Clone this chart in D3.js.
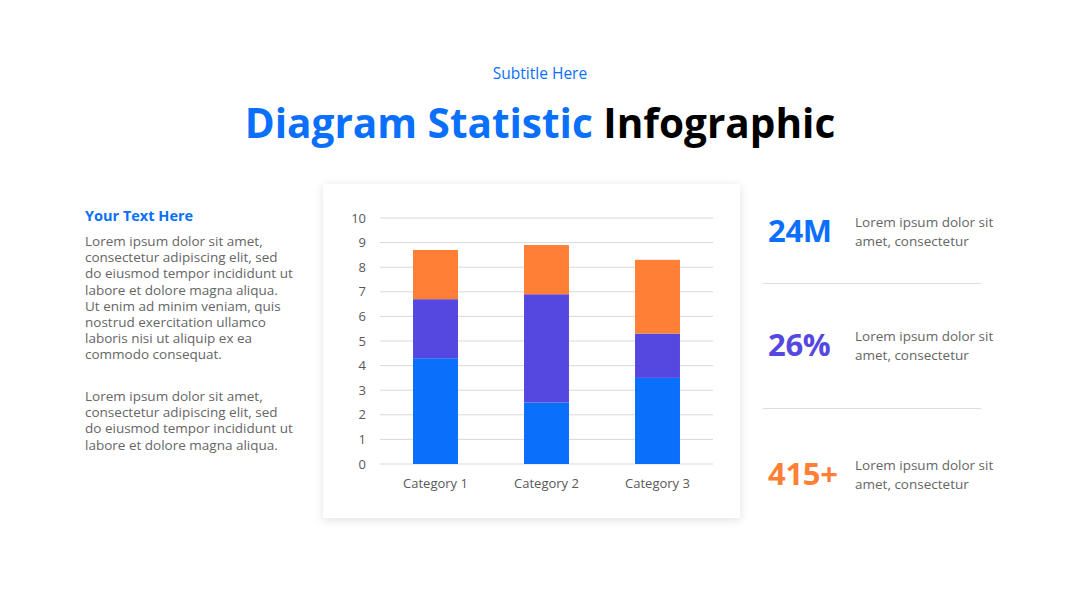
<!DOCTYPE html>
<html><head><meta charset="utf-8">
<script src="https://cdn.jsdelivr.net/npm/d3@7"></script>
<style>
html,body{margin:0;padding:0;background:#fff;}
svg{display:block;font-family:"Open Sans",sans-serif;}
</style></head><body>
<svg id="c" width="1080" height="608"></svg>
<script>
const categories = ["Category 1","Category 2","Category 3"];
const seriesNames = ["Series 1","Series 2","Series 3"];
const series1 = [4.3, 2.5, 3.5];
const series2 = [2.4, 4.4, 1.8];
const series3 = [2.0, 2.0, 3.0];
const yTicks = [0,1,2,3,4,5,6,7,8,9,10];
const colors = ["#0a6ffb","#5548e1","#fe7f35"];
const stats = ["24M","26%","415+"];
const statColors = ["#0a6ffb","#5548e1","#fe7f35"];

const svg = d3.select("#c");
const blue = "#0a6ffb", gray = "#666666";

// header
svg.append("text").attr("x",540).attr("y",79).attr("text-anchor","middle")
  .attr("font-size",15.5).attr("fill",blue).text("Subtitle Here");
const title = svg.append("text").attr("x",540).attr("y",138).attr("text-anchor","middle")
  .attr("font-size",40.5).attr("font-weight",700);
title.append("tspan").attr("fill",blue).text("Diagram Statistic ");
title.append("tspan").attr("fill","#000").text("Infographic");

// left text
svg.append("text").attr("x",85).attr("y",221).attr("font-size",14.5).attr("font-weight",700)
  .attr("fill",blue).text("Your Text Here");
const para1 = ["Lorem ipsum dolor sit amet,","consectetur adipiscing elit, sed","do eiusmod tempor incididunt ut","labore et dolore magna aliqua.","Ut enim ad minim veniam, quis","nostrud exercitation ullamco","laboris nisi ut aliquip ex ea","commodo consequat."];
const para2 = ["Lorem ipsum dolor sit amet,","consectetur adipiscing elit, sed","do eiusmod tempor incididunt ut","labore et dolore magna aliqua."];
function para(lines, y0){
  const t = svg.append("text").attr("x",85).attr("y",y0).attr("font-size",13.5).attr("fill",gray);
  lines.forEach((l,i)=>t.append("tspan").attr("x",85).attr("y",y0+i*16.2).text(l));
}
para(para1,246);
para(para2,401);

// chart panel with shadow
const defs = svg.append("defs");
const f = defs.append("filter").attr("id","sh").attr("x","-10%").attr("y","-10%").attr("width","120%").attr("height","120%");
f.append("feDropShadow").attr("dx",0).attr("dy",2).attr("stdDeviation",5).attr("flood-color","#000").attr("flood-opacity",0.12);
svg.append("rect").attr("x",323).attr("y",184).attr("width",417).attr("height",334).attr("fill","#fff").attr("filter","url(#sh)");

const x = d3.scaleBand().domain(categories).range([380,713]).paddingInner(0.595).paddingOuter(0.2975);
const y = d3.scaleLinear().domain([0,10]).range([464,218]);

// grid
const g = svg.append("g");
g.selectAll("line.grid").data(yTicks).join("line")
  .attr("x1",380).attr("x2",713).attr("y1",d=>y(d)).attr("y2",d=>y(d))
  .attr("stroke","#d9d9d9").attr("stroke-width",1);

const yAxis = svg.append("g").attr("transform","translate(366,0)")
  .call(d3.axisLeft(y).tickValues(yTicks).tickSize(0).tickPadding(0));
yAxis.select(".domain").remove();
yAxis.selectAll("text").attr("font-size",13).attr("fill","#595959").attr("font-family","Open Sans");

const data = categories.map((c,i)=>({cat:c, s0:series1[i], s1:series2[i], s2:series3[i]}));
const stack = d3.stack().keys(["s0","s1","s2"])(data);
svg.append("g").selectAll("g").data(stack).join("g").attr("fill",(d,i)=>colors[i])
  .selectAll("rect").data(d=>d).join("rect")
  .attr("x",d=>x(d.data.cat)).attr("width",x.bandwidth())
  .attr("y",d=>y(d[1])).attr("height",d=>y(d[0])-y(d[1]));

const xAxis = svg.append("g").attr("transform","translate(0,464)")
  .call(d3.axisBottom(x).tickSize(0).tickPadding(15));
xAxis.select(".domain").remove();
xAxis.selectAll("text").attr("font-size",13).attr("fill","#595959").attr("font-family","Open Sans");

// right stats
const statY = [242, 356, 485];
stats.forEach((s,i)=>{
  svg.append("text").attr("x",768).attr("y",statY[i]).attr("font-size",31).attr("font-weight",700)
    .attr("letter-spacing",-0.3).attr("fill",statColors[i]).text(s);
  const t = svg.append("text").attr("font-size",13.5).attr("fill",gray);
  t.append("tspan").attr("x",855).attr("y",statY[i]-15).text("Lorem ipsum dolor sit");
  t.append("tspan").attr("x",855).attr("y",statY[i]+4).text("amet, consectetur");
});
[283.5, 408.5].forEach(yy=>svg.append("line").attr("x1",763).attr("x2",981).attr("y1",yy).attr("y2",yy)
  .attr("stroke","#dddddd").attr("stroke-width",1));
</script>
</body></html>
